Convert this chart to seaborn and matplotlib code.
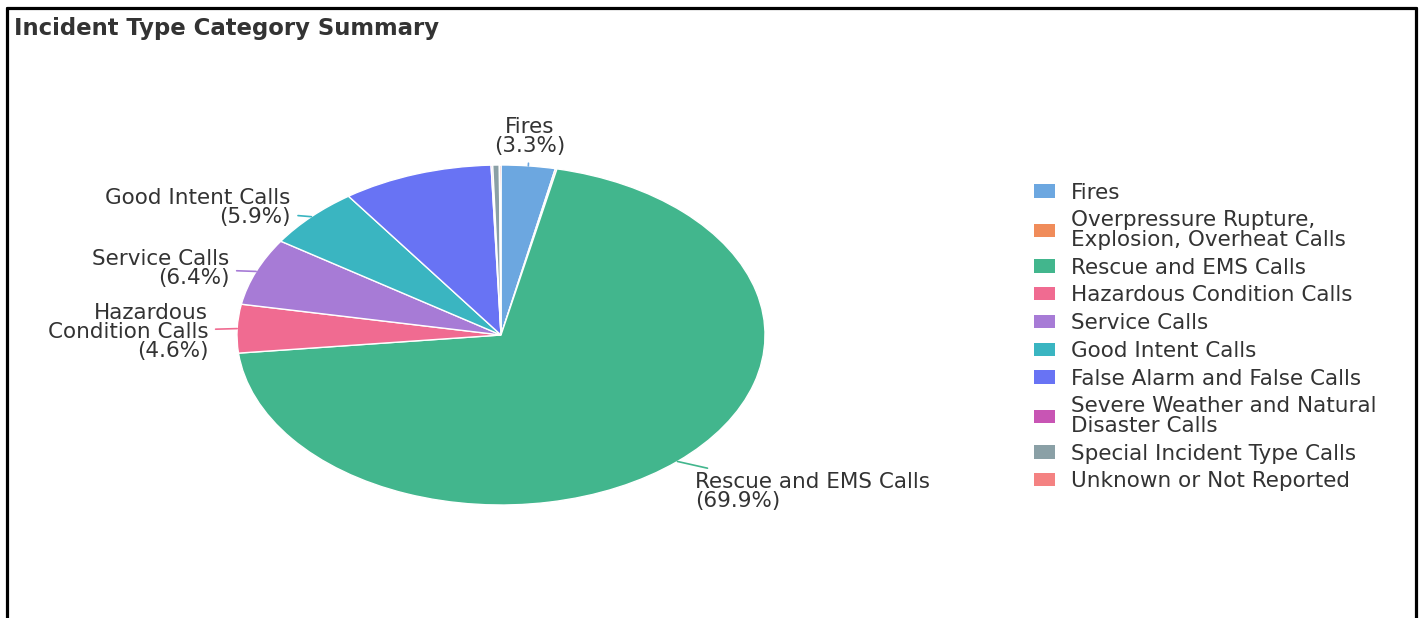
import numpy as np
import matplotlib
matplotlib.use("Agg")
import matplotlib.pyplot as plt
from matplotlib.patches import Patch
from matplotlib.lines import Line2D
import seaborn as sns

# ---- data ----
categories = [
    "Fires",
    "Overpressure Rupture,\nExplosion, Overheat Calls",
    "Rescue and EMS Calls",
    "Hazardous Condition Calls",
    "Service Calls",
    "Good Intent Calls",
    "False Alarm and False Calls",
    "Severe Weather and Natural\nDisaster Calls",
    "Special Incident Type Calls",
    "Unknown or Not Reported",
]
percentages = [3.3, 0.1, 69.9, 4.6, 6.4, 5.9, 9.2, 0.1, 0.4, 0.1]
slice_labels = [
    "Fires\n(3.3%)",
    None,
    "Rescue and EMS Calls\n(69.9%)",
    "Hazardous\nCondition Calls\n(4.6%)",
    "Service Calls\n(6.4%)",
    "Good Intent Calls\n(5.9%)",
    None,
    None,
    None,
    None,
]
colors = ["#6CA7E0", "#F08C5A", "#42B68D", "#F06B91", "#A77BD6",
          "#3AB5C1", "#6873F4", "#C855B4", "#8AA0A6", "#F48282"]
title = "Incident Type Category Summary"

sns.set_theme(style="white")
plt.rcParams["font.family"] = ["DejaVu Sans"]
TXT = "#333333"
FS = 15.5

W, H = 1421, 618
fig = plt.figure(figsize=(W / 100, H / 100), dpi=100)
fig.patch.set_facecolor("white")

ax = fig.add_axes([237 / W, (H - 505) / H, 528 / W, 340 / H])
wedges, _ = ax.pie(percentages, colors=colors, startangle=90, counterclock=False,
                   wedgeprops=dict(edgecolor="white", linewidth=1.0))
ax.set_aspect("auto")
ax.set_xlim(-1, 1)
ax.set_ylim(-1, 1)
ax.axis("off")

for w, lab in zip(wedges, slice_labels):
    if lab is None:
        continue
    th = np.deg2rad((w.theta1 + w.theta2) / 2)
    c, s = np.cos(th), np.sin(th)
    if s > 0.72:
        ha, va, ma, r, dy = "center", "bottom", "center", 1.06, 0.0
    elif s < -0.72:
        ha, va, ma, r, dy = "left", "top", "left", 1.1, 0.01
    elif c < 0:
        ha, va, ma, r, dy = "right", "center", "right", 1.11, -0.022
    else:
        ha, va, ma, r, dy = "left", "center", "left", 1.11, -0.022
    ax.annotate(lab, xy=(c, s), xytext=(c * r, s * r + dy), ha=ha, va=va,
                multialignment=ma, fontsize=FS, color=TXT, linespacing=0.93,
                annotation_clip=False,
                arrowprops=dict(arrowstyle="-", color=w.get_facecolor(), lw=1.2,
                                shrinkA=3, shrinkB=0))

handles = [Patch(facecolor=col, edgecolor="none") for col in colors]
leg = fig.legend(handles, categories, loc="upper left",
                 bbox_to_anchor=(1025 / W, 1 - 174 / H), frameon=False,
                 fontsize=FS, handlelength=0.98, handleheight=0.58,
                 handletextpad=0.75, labelspacing=0.36, borderaxespad=0)
for t in leg.get_texts():
    t.set_color(TXT)
    t.set_linespacing(0.97)

fig.text(14 / W, 1 - 28 / H, title, fontsize=16.4, fontweight="bold",
         color=TXT, ha="left", va="center")

# outer frame (open at bottom)
lw = 2.3
fig.add_artist(Line2D([6.5 / W, 6.5 / W], [0, 1 - 8 / H], color="black", lw=lw))
fig.add_artist(Line2D([6.5 / W, 1416 / W], [1 - 8 / H, 1 - 8 / H], color="black", lw=lw))
fig.add_artist(Line2D([1416 / W, 1416 / W], [0, 1 - 8 / H], color="black", lw=lw))

fig.savefig("out.png", dpi=100, facecolor="white")
